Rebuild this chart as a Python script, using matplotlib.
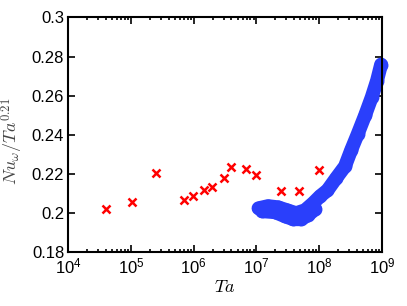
import numpy as np
import matplotlib
matplotlib.use("Agg")
import matplotlib.pyplot as plt
from matplotlib.ticker import LogLocator, NullFormatter, FixedLocator

# experiments (red crosses)
ta_exp = [4.0e4, 1.05e5, 2.48e5, 7.1e5, 9.9e5, 1.46e6, 1.94e6, 3.0e6,
          3.94e6, 6.84e6, 9.77e6, 2.45e7, 4.84e7, 1.01e8]
nu_exp = [0.2017, 0.2054, 0.2204, 0.2064, 0.2085, 0.2115, 0.2132, 0.2180,
          0.2234, 0.2224, 0.2192, 0.2110, 0.2114, 0.2217]

# dense blue data, main ridge
ta_blue = [1.08e7, 1.53e7, 2.22e7, 3.08e7, 4.30e7, 5.97e7, 8.02e7, 1.04e8,
           1.36e8, 1.87e8, 2.59e8, 3.24e8, 4.11e8, 5.42e8, 6.92e8, 8.41e8, 9.75e8]
nu_blue = [0.2023, 0.2034, 0.2028, 0.2013, 0.1998, 0.2013, 0.2049, 0.2085,
           0.2115, 0.2177, 0.2238, 0.2320, 0.2401, 0.2499, 0.2592, 0.2677, 0.2759]
# lower edge of the blue cloud
ta_blue_lo = [1.23e7, 1.99e7, 2.86e7, 3.85e7, 5.16e7, 6.67e7, 8.63e7]
nu_blue_lo = [0.2008, 0.2003, 0.1982, 0.1967, 0.1967, 0.1988, 0.2018]

plt.rcParams['font.family'] = ['Liberation Sans', 'DejaVu Sans']
plt.rcParams['font.size'] = 12

blue = '#2a3ffb'

fig = plt.figure(figsize=(4.07, 3.06), dpi=100)
ax = fig.add_axes([0.168, 0.177, 0.770, 0.766])

ax.plot(ta_blue, nu_blue, '-o', color=blue, lw=10, ms=10, mew=0,
        solid_capstyle='round', clip_on=False)
ax.plot(ta_blue_lo, nu_blue_lo, '-o', color=blue, lw=10, ms=10, mew=0,
        solid_capstyle='round', clip_on=False)
ax.plot(ta_exp, nu_exp, 'x', color='red', ms=5.5, mew=1.8, ls='none')

ax.set_xscale('log')
ax.set_xlim(1e4, 1e9)
ax.set_ylim(0.18, 0.3)
ax.xaxis.set_major_locator(LogLocator(base=10, numticks=10))
ax.xaxis.set_minor_locator(LogLocator(base=10, subs=np.arange(2, 10), numticks=10))
ax.xaxis.set_minor_formatter(NullFormatter())
ax.yaxis.set_major_locator(FixedLocator([0.18, 0.2, 0.22, 0.24, 0.26, 0.28, 0.3]))
ax.set_yticklabels(['0.18', '0.2', '0.22', '0.24', '0.26', '0.28', '0.3'])

ax.tick_params(which='both', direction='in', top=True, right=True, width=1.2)
ax.tick_params(which='major', length=5, pad=3)
ax.tick_params(which='minor', length=2.5)
for s in ax.spines.values():
    s.set_linewidth(1.5)

ax.set_xlabel(r'$Ta$', math_fontfamily='cm', fontsize=13, labelpad=2)
ax.set_ylabel(r'$Nu_\omega/Ta^{0.21}$', math_fontfamily='cm', fontsize=13,
              color='#444444', labelpad=0)
ax.yaxis.set_label_coords(-0.138, 0.47)

fig.savefig('out.png', dpi=100)
